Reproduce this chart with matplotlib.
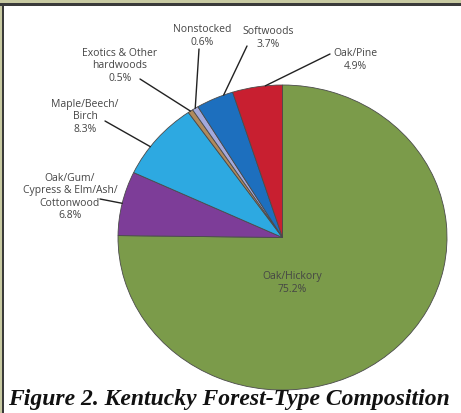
import numpy as np
import matplotlib
matplotlib.use('Agg')
import matplotlib.pyplot as plt
from matplotlib.patches import Rectangle

# forest types, clockwise from 12 o'clock
forest_types = ['Oak/Hickory', 'Oak/Gum/\nCypress & Elm/Ash/\nCottonwood', 'Maple/Beech/\nBirch',
                'Exotics & Other\nhardwoods', 'Nonstocked', 'Softwoods', 'Oak/Pine']
shares = [75.2, 6.8, 8.3, 0.5, 0.6, 3.7, 4.9]
colors = ['#7b9b4a', '#7d3d98', '#2da9e1', '#b08a5c', '#a3a9dc', '#1d6fbe', '#c81f30']

W, H = 461, 414
# label text anchors and leader line starts (pixels), None = inside label
label_pos = [(292, 283), (70, 197), (85, 117), (120, 66), (202, 36), (268, 38), (355, 60)]
line_start = [None, (100, 200), (105, 122), (140, 80), (199, 50), (247, 47), (330, 55)]
# where along each wedge the leader line lands (0 = start edge, 1 = end edge)
hit_frac = [0.5, 0.5, 0.38, 0.5, 0.5, 0.75, 0.66]


def px(x, y):
    return x / W, 1 - y / H


fig = plt.figure(figsize=(W / 100, H / 100), dpi=100)
fig.patch.set_facecolor('white')

# frame: khaki band and dark rule on top and left
fig.patches.append(Rectangle((0, 1 - 4 / H), 1, 4 / H, transform=fig.transFigure,
                             facecolor='#c8caa2', edgecolor='none', zorder=0))
fig.patches.append(Rectangle((0, 1 - 6.5 / H), 1, 2.5 / H, transform=fig.transFigure,
                             facecolor='#3a3a3a', edgecolor='none', zorder=1))
fig.patches.append(Rectangle((0, 0), 1.5 / W, 1, transform=fig.transFigure,
                             facecolor='#c8caa2', edgecolor='none', zorder=0))
fig.patches.append(Rectangle((1.5 / W, 0), 2 / W, 1 - 4 / H, transform=fig.transFigure,
                             facecolor='#3a3a3a', edgecolor='none', zorder=1))

# pie fills an elliptical box
left, right, top, bottom = 118, 447, 86, 391
ax = fig.add_axes([left / W, 1 - bottom / H, (right - left) / W, (bottom - top) / H])
wedges, _ = ax.pie(shares, colors=colors, startangle=90, counterclock=False, radius=1,
                   wedgeprops=dict(edgecolor='#4a4a4a', linewidth=0.6))
ax.set_aspect('auto')
ax.set_xlim(-1, 1)
ax.set_ylim(-1, 1)
ax.axis('off')

font = ['Open Sans', 'DejaVu Sans']
for w, name, pct, pos, start, f in zip(wedges, forest_types, shares, label_pos,
                                       line_start, hit_frac):
    fig.text(*px(*pos), f'{name}\n{pct}%', ha='center', va='center', fontsize=7.5,
             family=font, color='#454545', linespacing=1.2)
    if start is None:
        continue
    # counterclock=False: wedge runs from theta2 down to theta1
    ang = np.deg2rad(w.theta2 - f * (w.theta2 - w.theta1))
    ax.annotate('', xy=(np.cos(ang), np.sin(ang)), xycoords='data',
                xytext=px(*start), textcoords='figure fraction',
                arrowprops=dict(arrowstyle='-', color='#222222', lw=1.0,
                                shrinkA=0, shrinkB=0))

fig.text(8 / W, 1 - 400 / H, 'Figure 2. Kentucky Forest-Type Composition',
         ha='left', va='center', fontsize=17, family='Liberation Serif',
         weight='bold', style='italic', color='#111111')

fig.savefig('out.png', dpi=100)
